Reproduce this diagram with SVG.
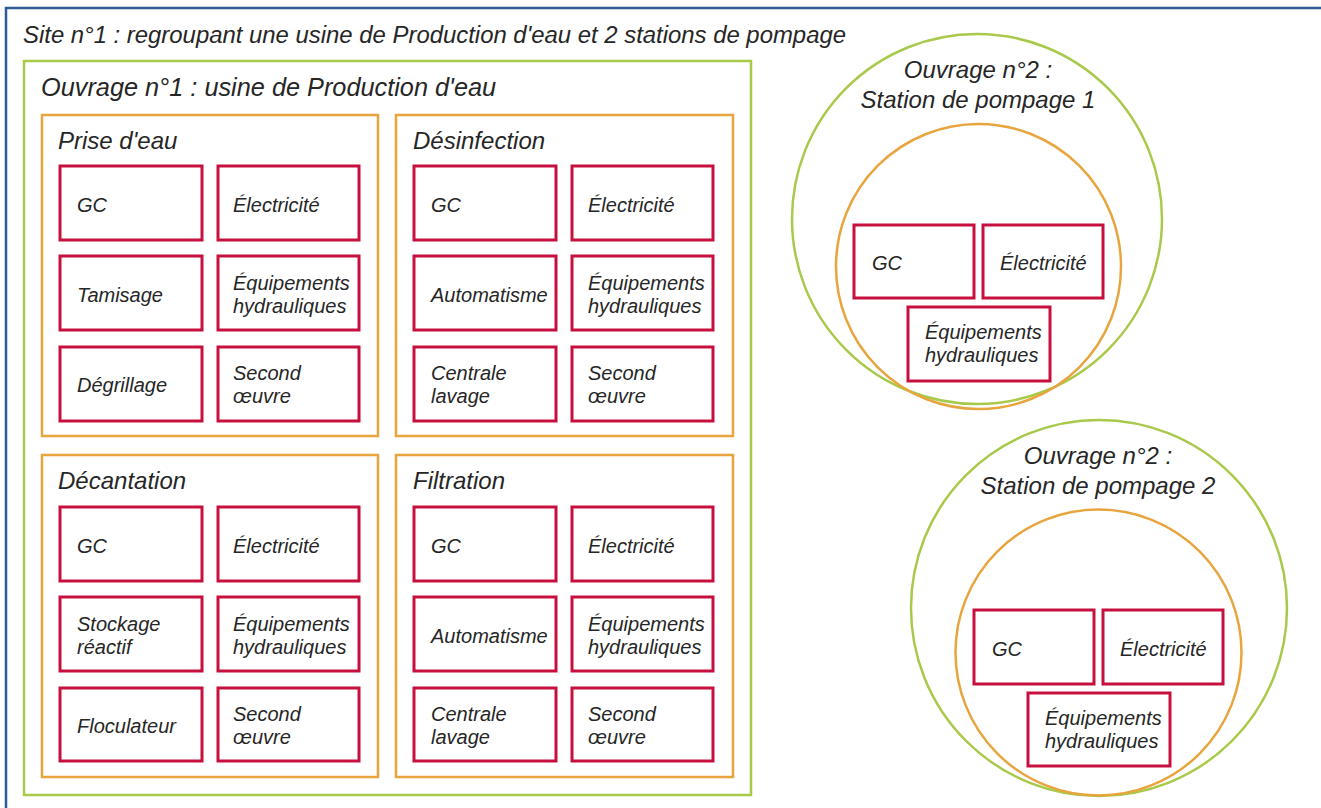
<svg xmlns="http://www.w3.org/2000/svg" width="1321" height="808" viewBox="0 0 1321 808">
<style>
text{font-family:"Liberation Sans",Arial,Helvetica,sans-serif;font-style:italic;fill:#262626}
.t{font-size:24px}
.b{font-size:20px}
.frame{fill:none;stroke:#2f5b95;stroke-width:2.5}
.ouv{fill:none;stroke:#a9c94b;stroke-width:2.5}
.grp{fill:none;stroke:#e8a53e;stroke-width:2.5}
.box{fill:#fff;stroke:#c8103f;stroke-width:3}
.mid{text-anchor:middle}
</style>
<rect width="1321" height="808" fill="#fff"/>
<g id="site">
<rect class="frame" x="6" y="8" width="1340" height="830"/>
<text class="t" x="23" y="43" style="font-size:23.9px">Site n°1 : regroupant une usine de Production d'eau et 2 stations de pompage</text>
</g>
<g id="ouvrage1">
<rect class="ouv" x="24" y="61" width="727" height="734"/>
<text class="t" x="41" y="96" style="font-size:25.3px">Ouvrage n°1 : usine de Production d'eau</text>
</g>
<g id="prise">
<rect class="grp" x="42" y="115" width="336" height="321"/>
<text class="t" x="58" y="149">Prise d'eau</text>
<g id="prise-gc"><rect class="box" x="60" y="166" width="142" height="74"/><text class="b" x="77" y="212">GC</text></g>
<g id="prise-elec"><rect class="box" x="218" y="166" width="141" height="74"/><text class="b" x="233" y="212">Électricité</text></g>
<g id="prise-tam"><rect class="box" x="60" y="256" width="142" height="74"/><text class="b" x="77" y="302">Tamisage</text></g>
<g id="prise-equip"><rect class="box" x="218" y="256" width="141" height="74"/><text class="b" x="233" y="290">Équipements</text><text class="b" x="233" y="313">hydrauliques</text></g>
<g id="prise-degr"><rect class="box" x="60" y="347" width="142" height="74"/><text class="b" x="77" y="392">Dégrillage</text></g>
<g id="prise-so"><rect class="box" x="218" y="347" width="141" height="74"/><text class="b" x="233" y="380">Second</text><text class="b" x="233" y="403">œuvre</text></g>
</g>
<g id="desinfection">
<rect class="grp" x="396" y="115" width="337" height="321"/>
<text class="t" x="413" y="149">Désinfection</text>
<g id="des-gc"><rect class="box" x="414" y="166" width="142" height="74"/><text class="b" x="431" y="212">GC</text></g>
<g id="des-elec"><rect class="box" x="572" y="166" width="141" height="74"/><text class="b" x="588" y="212">Électricité</text></g>
<g id="des-auto"><rect class="box" x="414" y="256" width="142" height="74"/><text class="b" x="431" y="302">Automatisme</text></g>
<g id="des-equip"><rect class="box" x="572" y="256" width="141" height="74"/><text class="b" x="588" y="290">Équipements</text><text class="b" x="588" y="313">hydrauliques</text></g>
<g id="des-cl"><rect class="box" x="414" y="347" width="142" height="74"/><text class="b" x="431" y="380">Centrale</text><text class="b" x="431" y="403">lavage</text></g>
<g id="des-so"><rect class="box" x="572" y="347" width="141" height="74"/><text class="b" x="588" y="380">Second</text><text class="b" x="588" y="403">œuvre</text></g>
</g>
<g id="decantation">
<rect class="grp" x="42" y="455" width="336" height="322"/>
<text class="t" x="58" y="489">Décantation</text>
<g id="dec-gc"><rect class="box" x="60" y="507" width="142" height="74"/><text class="b" x="77" y="553">GC</text></g>
<g id="dec-elec"><rect class="box" x="218" y="507" width="141" height="74"/><text class="b" x="233" y="553">Électricité</text></g>
<g id="dec-stock"><rect class="box" x="60" y="597" width="142" height="74"/><text class="b" x="77" y="631">Stockage</text><text class="b" x="77" y="654">réactif</text></g>
<g id="dec-equip"><rect class="box" x="218" y="597" width="141" height="74"/><text class="b" x="233" y="631">Équipements</text><text class="b" x="233" y="654">hydrauliques</text></g>
<g id="dec-floc"><rect class="box" x="60" y="688" width="142" height="73"/><text class="b" x="77" y="733">Floculateur</text></g>
<g id="dec-so"><rect class="box" x="218" y="688" width="141" height="73"/><text class="b" x="233" y="721">Second</text><text class="b" x="233" y="744">œuvre</text></g>
</g>
<g id="filtration">
<rect class="grp" x="396" y="455" width="337" height="322"/>
<text class="t" x="413" y="489">Filtration</text>
<g id="fil-gc"><rect class="box" x="414" y="507" width="142" height="74"/><text class="b" x="431" y="553">GC</text></g>
<g id="fil-elec"><rect class="box" x="572" y="507" width="141" height="74"/><text class="b" x="588" y="553">Électricité</text></g>
<g id="fil-auto"><rect class="box" x="414" y="597" width="142" height="74"/><text class="b" x="431" y="643">Automatisme</text></g>
<g id="fil-equip"><rect class="box" x="572" y="597" width="141" height="74"/><text class="b" x="588" y="631">Équipements</text><text class="b" x="588" y="654">hydrauliques</text></g>
<g id="fil-cl"><rect class="box" x="414" y="688" width="142" height="73"/><text class="b" x="431" y="721">Centrale</text><text class="b" x="431" y="744">lavage</text></g>
<g id="fil-so"><rect class="box" x="572" y="688" width="141" height="73"/><text class="b" x="588" y="721">Second</text><text class="b" x="588" y="744">œuvre</text></g>
</g>
<g id="station1">
<circle class="ouv" cx="977" cy="219" r="185"/>
<circle class="grp" cx="978.5" cy="266.5" r="142.5"/>
<text class="t mid" x="978" y="78">Ouvrage n°2 :</text>
<text class="t mid" x="978" y="108">Station de pompage 1</text>
<g id="s1-gc"><rect class="box" x="854" y="225" width="120" height="73"/><text class="b" x="872" y="270">GC</text></g>
<g id="s1-elec"><rect class="box" x="983" y="225" width="120" height="73"/><text class="b" x="1000" y="270">Électricité</text></g>
<g id="s1-equip"><rect class="box" x="908" y="307" width="142" height="74"/><text class="b" x="925" y="339">Équipements</text><text class="b" x="925" y="362">hydrauliques</text></g>
</g>
<g id="station2">
<circle class="ouv" cx="1099" cy="608" r="188"/>
<circle class="grp" cx="1098.5" cy="652.5" r="143"/>
<text class="t mid" x="1098" y="464">Ouvrage n°2 :</text>
<text class="t mid" x="1098" y="494">Station de pompage 2</text>
<g id="s2-gc"><rect class="box" x="974" y="610" width="120" height="74"/><text class="b" x="992" y="656">GC</text></g>
<g id="s2-elec"><rect class="box" x="1103" y="610" width="120" height="74"/><text class="b" x="1120" y="656">Électricité</text></g>
<g id="s2-equip"><rect class="box" x="1028" y="693" width="142" height="73"/><text class="b" x="1045" y="725">Équipements</text><text class="b" x="1045" y="748">hydrauliques</text></g>
</g>
<g id="connectors"></g>
</svg>
